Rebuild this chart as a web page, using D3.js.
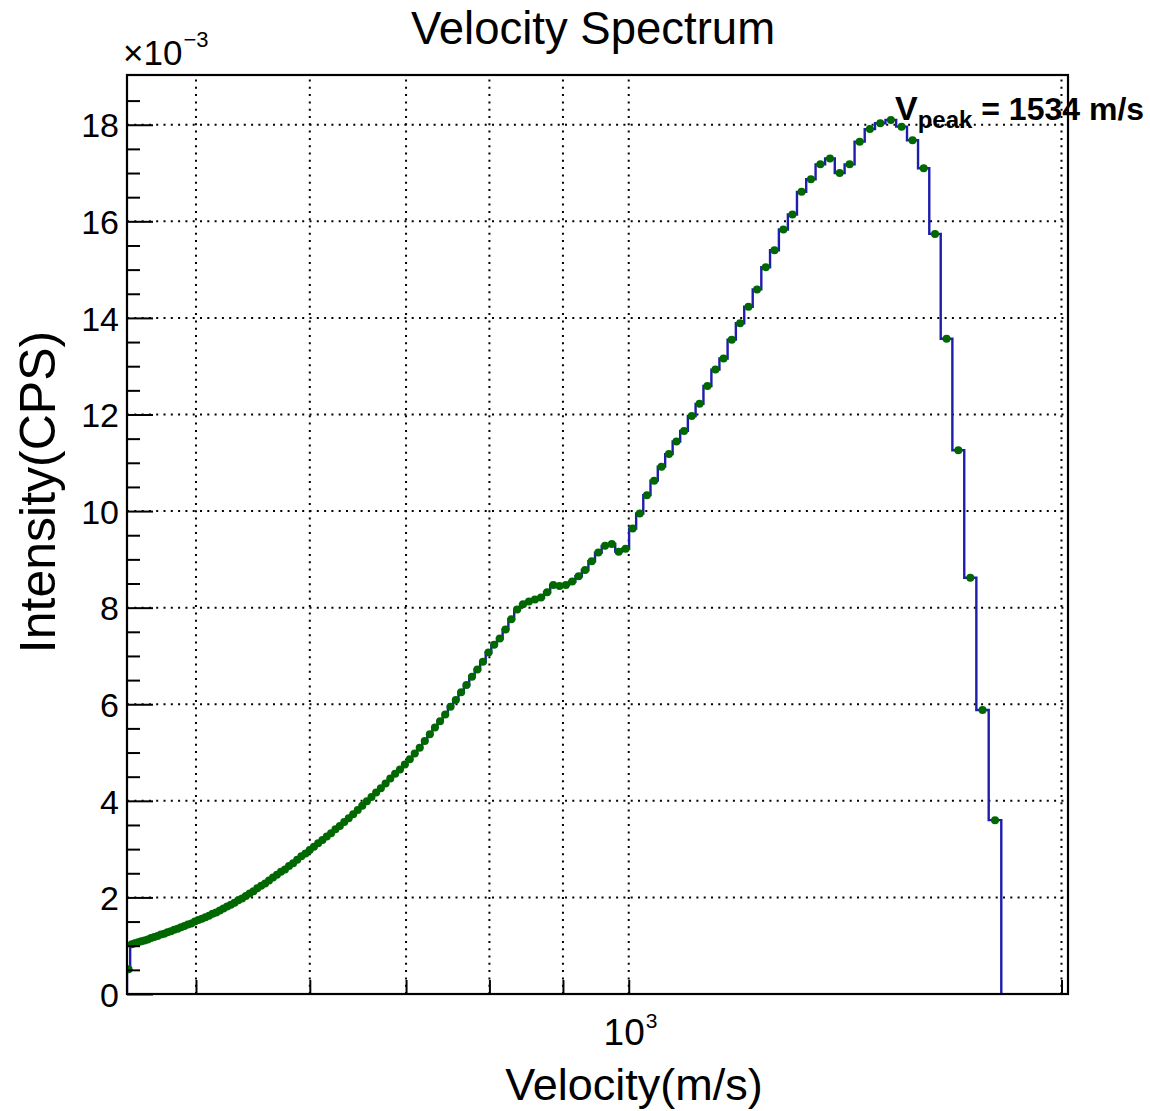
<!DOCTYPE html>
<html><head><meta charset="utf-8">
<script src="https://cdn.jsdelivr.net/npm/d3@7"></script>
<style>
body{margin:0;background:#fff}
svg{display:block}
text{font-family:"Liberation Sans",Arial,Helvetica,sans-serif;fill:#000}
</style>
</head><body>
<svg id="chart" width="1150" height="1111"></svg>
<script>
// ---------------- data ----------------
const chartTitle = "Velocity Spectrum";
const xAxisTitle = "Velocity(m/s)";
const yAxisTitle = "Intensity(CPS)";
const yExponentLabel = ["\u00d710", "\u22123"];
// histogram binned uniformly in time of flight (inverse velocity, s/m)
const invVelocityFirstEdge = 2.2336e-3;
const invVelocityBinWidth = 1.122e-5;
const xRange = [447.7, 2021];
const yRange = [0, 19.03];           // units of 1e-3 CPS
const xMajorTicks = [500, 600, 700, 800, 900, 1000, 2000];
const xTickLabels = [{value: 1000, base: "10", exp: "3"}];
const yMajorTicks = [0, 2, 4, 6, 8, 10, 12, 14, 16, 18];
const yMinorTicks = [0.5,1,1.5,2.5,3,3.5,4.5,5,5.5,6.5,7,7.5,8.5,9,9.5,10.5,11,11.5,12.5,13,13.5,14.5,15,15.5,16.5,17,17.5,18.5];
// intensity per bin (x1e-3 CPS), low velocity -> high velocity
const intensity = [
 0.51,1.03,1.05,1.07,1.09,1.11,1.13,1.16,1.18,1.20,
 1.23,1.25,1.28,1.30,1.33,1.35,1.38,1.41,1.44,1.46,
 1.50,1.53,1.56,1.59,1.62,1.66,1.69,1.73,1.77,1.81,
 1.85,1.89,1.94,1.98,2.03,2.08,2.13,2.19,2.24,2.29,
 2.35,2.41,2.47,2.53,2.58,2.65,2.71,2.78,2.85,2.91,
 2.98,3.05,3.12,3.19,3.26,3.33,3.41,3.48,3.56,3.64,
 3.72,3.81,3.90,3.99,4.08,4.17,4.26,4.36,4.46,4.56,
 4.65,4.75,4.86,4.98,5.10,5.24,5.38,5.52,5.65,5.79,
 5.95,6.09,6.25,6.40,6.57,6.72,6.88,7.07,7.23,7.36,
 7.55,7.76,7.96,8.07,8.13,8.17,8.21,8.32,8.47,8.45,
 8.47,8.54,8.65,8.78,8.96,9.14,9.28,9.32,9.16,9.22,
 9.64,9.95,10.33,10.63,10.92,11.18,11.44,11.66,11.97,12.22,
 12.59,12.93,13.16,13.55,13.89,14.23,14.59,15.05,15.40,15.83,
 16.14,16.61,16.87,17.18,17.30,17.00,17.18,17.65,17.91,18.03,
 18.10,17.96,17.68,17.10,15.74,13.57,11.26,8.62,5.88,3.60
];
const peakLabel = {main: "V", sub: "peak", rest: " = 1534 m/s"};

// ---------------- drawing ----------------
const svg = d3.select("#chart");
const plot = {left: 127, right: 1068, top: 75, bottom: 994};
const x = d3.scaleLog().domain(xRange).range([plot.left, plot.right]);
const y = d3.scaleLinear().domain(yRange).range([plot.bottom, plot.top]);

const edges = d3.range(intensity.length + 1).map(i => 1 / (invVelocityFirstEdge - i * invVelocityBinWidth));
const bins = intensity.map((v, i) => ({lo: edges[i], hi: edges[i + 1], c: (edges[i] + edges[i + 1]) / 2, v}));

svg.append("rect").attr("width", 1150).attr("height", 1111).attr("fill", "#fff");

svg.append("defs").append("clipPath").attr("id", "clip")
  .append("rect").attr("x", plot.left).attr("y", plot.top)
  .attr("width", plot.right - plot.left).attr("height", plot.bottom - plot.top);

// grid
const grid = svg.append("g").attr("stroke", "#000").attr("stroke-width", 2)
  .attr("stroke-dasharray", "2 5.3").attr("fill", "none");
grid.selectAll("line.gx").data(xMajorTicks).join("line").attr("class", "gx")
  .attr("x1", d => x(d)).attr("x2", d => x(d)).attr("y1", plot.bottom).attr("y2", plot.top);
grid.selectAll("line.gy").data(yMajorTicks.filter(d => d > 0)).join("line").attr("class", "gy")
  .attr("y1", d => y(d)).attr("y2", d => y(d)).attr("x1", plot.left).attr("x2", plot.right);

// histogram outline
const pts = [[edges[0], 0]];
bins.forEach(b => pts.push([b.lo, b.v]));
pts.push([edges[edges.length - 1], intensity[intensity.length - 1]]);
pts.push([edges[edges.length - 1], 0]);
const line = d3.line().x(d => x(d[0])).y(d => y(d[1])).curve(d3.curveStepAfter);
svg.append("path").attr("clip-path", "url(#clip)").attr("d", line(pts))
  .attr("fill", "none").attr("stroke", "#1e1eae").attr("stroke-width", 2.4);

// markers
svg.append("g").attr("clip-path", "url(#clip)").selectAll("circle").data(bins).join("circle")
  .attr("cx", d => x(d.c)).attr("cy", d => y(d.v)).attr("r", 4).attr("fill", "#006800");

// axes ticks (inward)
const yAx = svg.append("g").attr("transform", `translate(${plot.left},0)`)
  .call(d3.axisLeft(y).tickValues(yMajorTicks).tickSize(-26).tickPadding(8).tickFormat(d3.format("d")));
const yAxMinor = svg.append("g").attr("transform", `translate(${plot.left},0)`)
  .call(d3.axisLeft(y).tickValues(yMinorTicks).tickSize(-13).tickFormat(""));
const xAx = svg.append("g").attr("transform", `translate(0,${plot.bottom})`)
  .call(d3.axisBottom(x).tickValues(xMajorTicks).tickSize(-14).tickFormat(""));
[yAx, yAxMinor, xAx].forEach(g => {
  g.select(".domain").remove();
  g.selectAll(".tick line").attr("stroke", "#000").attr("stroke-width", 2);
  g.attr("font-family", null).attr("font-size", null);
});
yAx.selectAll(".tick text").attr("font-size", 34).attr("dy", "0.36em");

// x tick label 10^3
xTickLabels.forEach(t => {
  svg.append("text").attr("x", x(t.value) + 16).attr("y", 1045)
    .attr("text-anchor", "end").attr("font-size", 37).text(t.base);
  svg.append("text").attr("x", x(t.value) + 17).attr("y", 1028)
    .attr("font-size", 21).text(t.exp);
});

// frame
svg.append("rect").attr("x", plot.left).attr("y", plot.top)
  .attr("width", plot.right - plot.left).attr("height", plot.bottom - plot.top)
  .attr("fill", "none").attr("stroke", "#000").attr("stroke-width", 2.2);

// exponent label
const ex = svg.append("text").attr("x", 123).attr("y", 65).attr("font-size", 35).text(yExponentLabel[0]);
const exW = ex.node().getComputedTextLength();
svg.append("text").attr("x", 123 + exW + 1).attr("y", 47).attr("font-size", 22).text(yExponentLabel[1]);

// titles
svg.append("text").attr("x", 593).attr("y", 44).attr("text-anchor", "middle")
  .attr("font-size", 45.5).text(chartTitle);
svg.append("text").attr("x", 634).attr("y", 1100).attr("text-anchor", "middle")
  .attr("font-size", 45).text(xAxisTitle);
svg.append("text").attr("transform", "translate(55,492) rotate(-90)").attr("text-anchor", "middle")
  .attr("font-size", 50).text(yAxisTitle);

// peak annotation
const pk = svg.append("text").attr("x", 895).attr("y", 120).attr("font-weight", "bold").attr("font-size", 32);
pk.append("tspan").attr("font-size", 34).text(peakLabel.main);
pk.append("tspan").attr("font-size", 24).attr("dy", 8).text(peakLabel.sub);
pk.append("tspan").attr("dy", -8).text(peakLabel.rest);
</script>
</body></html>
